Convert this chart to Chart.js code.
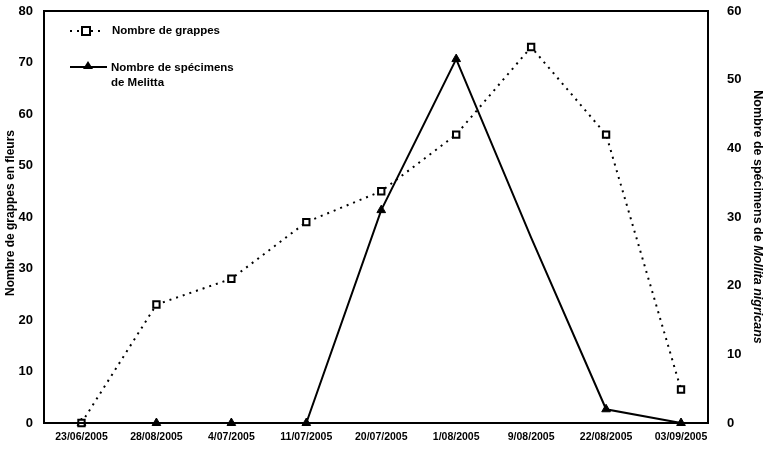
<!DOCTYPE html>
<html><head><meta charset="utf-8">
<script src="https://cdn.jsdelivr.net/npm/chart.js@4/dist/chart.umd.min.js"></script>
<style>html,body{margin:0;padding:0;background:#fff}#wrap{width:766px;height:451px}</style>
</head><body><div id="wrap"><canvas id="c" width="766" height="451"></canvas></div>
<script>
const categories = ["23/06/2005","28/08/2005","4/07/2005","11/07/2005","20/07/2005","1/08/2005","9/08/2005","22/08/2005","03/09/2005"];
const grappes = [0, 23, 28, 39, 45, 56, 73, 56, 6.5];
const melitta = [0, 0, 0, 0, 31, 53, 27, 2, 0];
const melittaMarkers = [5, 5, 5, 5, 5, 5, 0, 5, 5];
const leftTicks = [0,10,20,30,40,50,60,70,80];
const rightTicks = [0,10,20,30,40,50,60];

const FONT = "'Liberation Sans', Arial, sans-serif";

const extras = {
  id: 'extras',
  afterDraw(chart) {
    const ctx = chart.ctx;
    const a = chart.chartArea;
    ctx.save();
    ctx.strokeStyle = '#000'; ctx.lineWidth = 2;
    ctx.strokeRect(a.left, a.top, a.right - a.left, a.bottom - a.top);
    // legend
    ctx.fillStyle = '#000';
    ctx.font = "bold 11.5px " + FONT;
    ctx.textBaseline = 'middle';
    ctx.lineWidth = 2;
    ctx.setLineDash([2,5]);
    ctx.beginPath(); ctx.moveTo(a.left + 26, a.top + 20); ctx.lineTo(a.left + 58, a.top + 20); ctx.stroke();
    ctx.setLineDash([]);
    ctx.fillStyle = '#fff';
    ctx.fillRect(a.left + 38, a.top + 16, 8, 8);
    ctx.strokeRect(a.left + 38, a.top + 16, 8, 8);
    ctx.fillStyle = '#000';
    ctx.fillText('Nombre de grappes', a.left + 68, a.top + 20);
    ctx.beginPath(); ctx.moveTo(a.left + 26, a.top + 56); ctx.lineTo(a.left + 63, a.top + 56); ctx.stroke();
    ctx.beginPath(); ctx.moveTo(a.left + 44, a.top + 50); ctx.lineTo(a.left + 49, a.top + 58); ctx.lineTo(a.left + 39, a.top + 58); ctx.closePath(); ctx.fill();
    ctx.fillText('Nombre de spécimens', a.left + 67, a.top + 57);
    ctx.fillText('de Melitta', a.left + 67, a.top + 72);
    const cy = (a.top + a.bottom) / 2;
    // left title
    ctx.save();
    ctx.translate(11, cy - 4);
    ctx.rotate(-Math.PI / 2);
    ctx.textAlign = 'center';
    ctx.font = "bold 12px " + FONT;
    ctx.fillText('Nombre de grappes en fleurs', 0, 0);
    ctx.restore();
    // right title
    ctx.translate(757, cy);
    ctx.rotate(Math.PI / 2);
    const p1 = 'Nombre de spécimens de ';
    const p2 = 'Mollita nigricans';
    const f1 = "bold 12.5px " + FONT, f2 = "italic bold 12.5px " + FONT;
    ctx.font = f1; const w1 = ctx.measureText(p1).width;
    ctx.font = f2; const w2 = ctx.measureText(p2).width;
    const x0 = -(w1 + w2) / 2;
    ctx.textAlign = 'left';
    ctx.font = f1; ctx.fillText(p1, x0, 0);
    ctx.font = f2; ctx.fillText(p2, x0 + w1, 0);
    ctx.restore();
  }
};

const pts = arr => arr.map((v, i) => ({ x: i, y: v }));

new Chart(document.getElementById('c'), {
  type: 'line',
  data: {
    datasets: [
      { label: 'Nombre de grappes', data: pts(grappes), yAxisID: 'y',
        borderColor: '#000', borderWidth: 2, borderDash: [2,5], backgroundColor: '#fff',
        pointStyle: 'rect', pointRadius: 4.5, pointBorderWidth: 2, pointBorderColor: '#000', pointBackgroundColor: '#fff',
        tension: 0, clip: false },
      { label: 'Nombre de spécimens de Melitta', data: pts(melitta), yAxisID: 'y2',
        borderColor: '#000', borderWidth: 2, backgroundColor: '#000',
        pointStyle: 'triangle', pointRadius: melittaMarkers, pointBorderWidth: 1, pointBackgroundColor: '#000', pointBorderColor: '#000',
        tension: 0, clip: false }
    ]
  },
  options: {
    responsive: false, animation: false,
    layout: { padding: { top: 11, right: 0, left: 0, bottom: 0 } },
    plugins: { legend: { display: false }, tooltip: { enabled: false } },
    scales: {
      x: { type: 'linear', min: -0.5, max: 8.36, grid: { display: false, drawTicks: false }, border: { display: false },
        afterBuildTicks(s) { s.ticks = categories.map((c, i) => ({ value: i })); },
        ticks: { color: '#000', font: { family: FONT, size: 10.5, weight: 'bold' }, padding: 8, maxRotation: 0, autoSkip: false,
          callback: (v) => categories[v] },
        afterFit(s) { s.height = 28; s.paddingLeft = 0; s.paddingRight = 0; } },
      y: { position: 'left', min: 0, max: 80, grid: { display: false, drawTicks: false }, border: { display: false },
        afterBuildTicks(s) { s.ticks = leftTicks.map(v => ({ value: v })); },
        ticks: { color: '#000', font: { family: FONT, size: 13, weight: 'bold' }, padding: 11 },
        afterFit(s) { s.width = 44; s.paddingTop = 0; s.paddingBottom = 0; } },
      y2: { position: 'right', min: 0, max: 60, grid: { display: false, drawTicks: false }, border: { display: false },
        afterBuildTicks(s) { s.ticks = rightTicks.map(v => ({ value: v })); },
        ticks: { color: '#000', font: { family: FONT, size: 13, weight: 'bold' }, padding: 19 },
        afterFit(s) { s.width = 58; s.paddingTop = 0; s.paddingBottom = 0; } }
    }
  },
  plugins: [extras]
});
</script>
</body></html>
